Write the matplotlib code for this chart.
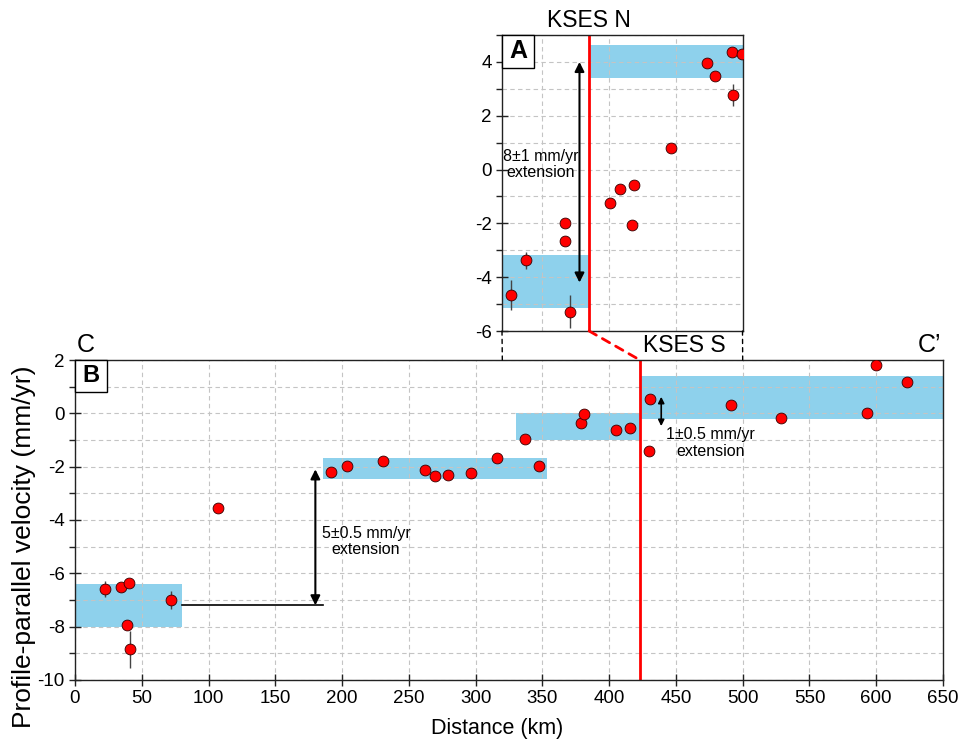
import numpy as np
import matplotlib
matplotlib.use("Agg")
import matplotlib.pyplot as plt
from matplotlib.patches import Rectangle, ConnectionPatch
from matplotlib.ticker import MultipleLocator

plt.rcParams['font.family'] = ['Liberation Sans', 'DejaVu Sans']
plt.rcParams['axes.unicode_minus'] = False

# panel B (profile C-C')
b_dist = [22.5, 34.2, 40.5, 38.7, 41.4, 72.2, 107, 191.5, 204, 230.5, 262, 269.4,
          279.4, 296.6, 316.3, 347.6, 337, 378.8, 381.5, 405.5, 415.3, 430.7,
          429.7, 491, 529, 593, 600, 623]
b_vel = [-6.6, -6.53, -6.35, -7.94, -8.85, -7.0, -3.54, -2.21, -1.98, -1.78, -2.11,
         -2.36, -2.33, -2.22, -1.69, -1.98, -0.96, -0.36, -0.04, -0.64, -0.56, 0.55,
         -1.43, 0.33, -0.19, 0.01, 1.82, 1.18]
b_err = [0.3, 0, 0, 0, 0.7, 0.35, 0, 0, 0, 0, 0, 0, 0, 0, 0, 0, 0, 0, 0, 0, 0, 0,
         0, 0, 0, 0, 0, 0]
# blue blocks: x0, x1, y0, y1
b_blocks = [(0, 80, -8.0, -6.4), (186, 353.6, -2.47, -1.68),
            (330, 423, -1.0, 0.0), (423, 650, -0.2, 1.4)]

# panel A (KSES N close-up)
a_dist = [326.5, 338.3, 367, 367, 370.7, 400.7, 408.2, 418.9, 417.4, 446.4,
          473.1, 479.3, 492, 499.8, 492.6]
a_vel = [-4.66, -3.37, -1.99, -2.64, -5.28, -1.23, -0.72, -0.56, -2.05, 0.80,
         3.95, 3.48, 4.37, 4.31, 2.78]
a_err = [0.56, 0.32, 0, 0, 0.62, 0, 0, 0, 0, 0, 0, 0, 0, 0, 0.4]
a_blocks = [(320, 385.2, -5.15, -3.17), (385.2, 500, 3.41, 4.62)]

kses_n = 385.2
kses_s = 423

blue = '#8ed1ec'
grid_kw = dict(color='#c4c4c4', linestyle=(0, (4, 3)), linewidth=0.8)

fig = plt.figure(figsize=(9.6, 7.45), dpi=100)
ax = fig.add_axes([75/960, 65/745, 868/960, 320/745])
ax_in = fig.add_axes([502/960, 414/745, 240.5/960, 296/745])


def style(a):
    a.set_axisbelow(True)
    for s in a.spines.values():
        s.set_linewidth(1.0)
        s.set_color('#222222')
    a.tick_params(axis='both', which='major', direction='inout', length=8,
                  width=1, labelsize=13.5, color='#222222')
    a.tick_params(axis='y', which='minor', direction='out', length=4, width=1,
                  color='#222222')
    a.yaxis.set_major_locator(MultipleLocator(2))
    a.yaxis.set_minor_locator(MultipleLocator(1))
    a.grid(True, which='major', **grid_kw)
    a.grid(True, which='minor', axis='y', **grid_kw)


def draw_points(a, x, y, e):
    a.errorbar(x, y, yerr=e, fmt='none', ecolor='#444444', elinewidth=1, zorder=2)
    a.plot(x, y, 'o', color='#ff0000', markersize=7.8, markeredgecolor='#330000',
           markeredgewidth=0.6, zorder=3)


# ---- panel B ----
style(ax)
for x0, x1, y0, y1 in b_blocks:
    ax.fill_between([x0, x1], y0, y1, color=blue, lw=0, zorder=0.2)
draw_points(ax, b_dist, b_vel, b_err)
ax.axvline(kses_s, color='red', lw=2, zorder=2.5)
ax.plot([80, 186], [-7.2, -7.2], color='k', lw=1.2, zorder=2)
ax.annotate('', xy=(180, -2.1), xytext=(180, -7.2),
            arrowprops=dict(arrowstyle='<|-|>', color='k', lw=1.5,
                            mutation_scale=14, shrinkA=0, shrinkB=0))
ax.annotate('', xy=(439, 0.62), xytext=(439, -0.48),
            arrowprops=dict(arrowstyle='<|-|>', color='k', lw=1.2,
                            mutation_scale=9, shrinkA=0, shrinkB=0))
ax.text(218, -4.82, '5±0.5 mm/yr\nextension', ha='center', va='center',
        fontsize=11.5, linespacing=1.1)
ax.text(476, -1.11, '1±0.5 mm/yr\nextension', ha='center', va='center',
        fontsize=11.5, linespacing=1.1)
ax.set_xlim(0, 650)
ax.set_ylim(-10, 2)
ax.xaxis.set_major_locator(MultipleLocator(50))
ax.set_xlabel('Distance (km)', fontsize=15.5)
ax.xaxis.set_label_coords(0.486, -0.12)
ax.set_ylabel('Profile-parallel velocity (mm/yr)', fontsize=19)
ax.yaxis.set_label_coords(-0.045, 0.416)
ax.add_patch(Rectangle((0, 0.9), 0.037, 0.1, transform=ax.transAxes,
                       fc='white', ec='k', lw=1, zorder=5, clip_on=False))
ax.text(0.0185, 0.95, 'B', transform=ax.transAxes, ha='center', va='center',
        fontsize=17, fontweight='bold', zorder=6)
ax.text(0.002, 1.01, 'C', transform=ax.transAxes, ha='left', va='bottom',
        fontsize=18)
ax.text(0.998, 1.01, 'C\u2019', transform=ax.transAxes, ha='right', va='bottom',
        fontsize=18)
ax.annotate('KSES S', xy=(kses_s, 1), xycoords=('data', 'axes fraction'),
            xytext=(2, 2), textcoords='offset points', ha='left', va='bottom',
            fontsize=16.5)

# ---- panel A ----
style(ax_in)
for x0, x1, y0, y1 in a_blocks:
    ax_in.fill_between([x0, x1], y0, y1, color=blue, lw=0, zorder=0.2)
draw_points(ax_in, a_dist, a_vel, a_err)
ax_in.axvline(kses_n, color='red', lw=2, zorder=2.5)
ax_in.annotate('', xy=(378, 4.0), xytext=(378, -4.2),
               arrowprops=dict(arrowstyle='<|-|>', color='k', lw=1.5,
                               mutation_scale=14, shrinkA=0, shrinkB=0))
ax_in.text(349, 0.19, '8±1 mm/yr\nextension', ha='center', va='center',
           fontsize=11.5, linespacing=1.1)
ax_in.set_xlim(320, 500)
ax_in.set_ylim(-6, 5)
ax_in.set_xticks([350, 400, 450])
ax_in.tick_params(axis='x', which='both', length=0, labelbottom=False)
ax_in.add_patch(Rectangle((0, 0.889), 0.133, 0.111, transform=ax_in.transAxes,
                          fc='white', ec='k', lw=1, zorder=5, clip_on=False))
ax_in.text(0.0665, 0.9445, 'A', transform=ax_in.transAxes, ha='center',
           va='center', fontsize=18, fontweight='bold', zorder=6)
ax_in.annotate('KSES N', xy=(kses_n, 1), xycoords=('data', 'axes fraction'),
               xytext=(0, 2), textcoords='offset points', ha='center',
               va='bottom', fontsize=16.5)

# connectors between the close-up and the main profile
for xk in (320, 500):
    fig.add_artist(ConnectionPatch(xyA=(xk, -6), coordsA=ax_in.transData,
                                   xyB=(xk, 2), coordsB=ax.transData,
                                   color='k', lw=1, linestyle=(0, (3, 3))))
fig.add_artist(ConnectionPatch(xyA=(kses_n, -6), coordsA=ax_in.transData,
                               xyB=(kses_s, 2), coordsB=ax.transData,
                               color='red', lw=2, linestyle=(0, (3, 2.5))))

fig.savefig('out.png', dpi=100, facecolor='white')
